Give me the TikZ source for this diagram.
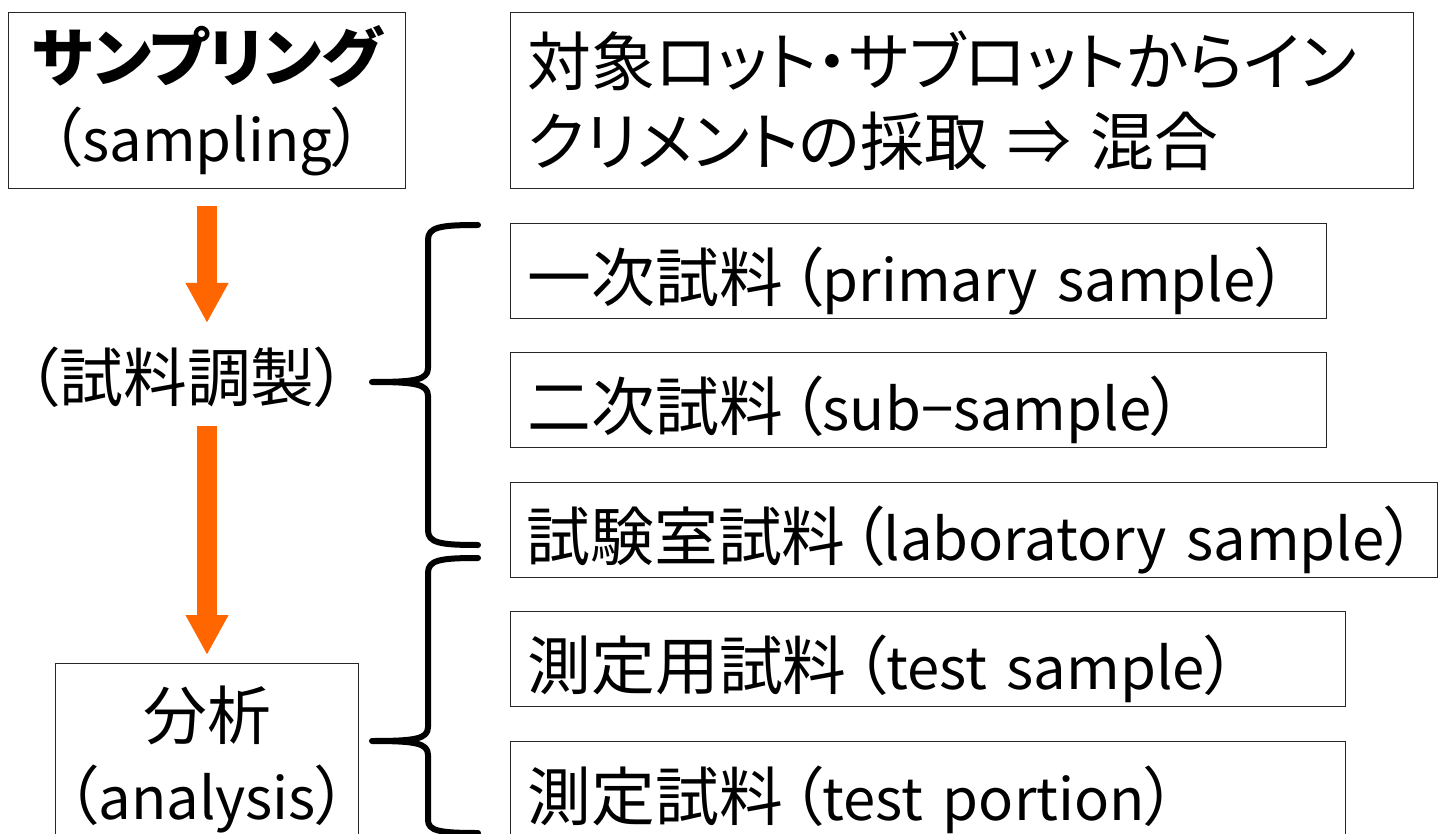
\documentclass[tikz,border=0pt]{standalone}
\usepackage{fontspec}
\setmainfont{Noto Sans CJK JP}
\newfontfamily\jp{Noto Sans CJK JP}[Scale=1.1, RawFeature=+palt]
\usetikzlibrary{arrows.meta}
\definecolor{arrorange}{HTML}{FF6600}
\newcommand{\LP}{{\jp （}}
\newcommand{\RP}{{\jp ）}}
\tikzset{
  box/.style={draw=black!85, line width=1.4pt, anchor=north west, inner ysep=0pt, inner xsep=17pt, align=left, text height=61pt, text depth=0pt},
  cbox/.style={draw=black!85, line width=1.4pt, anchor=north west, inner sep=0pt, align=center},
  big/.style={font=\fontsize{58}{80}\selectfont},
  arr/.style={draw=arrorange, line width=20pt, -{Triangle[width=40pt,length=40pt]}, arrorange},
  brace/.style={draw=black, line width=6pt, line cap=round, line join=round}
}
\begin{document}
\begin{tikzpicture}[x=1pt,y=-1pt]
\useasboundingbox (0,0) rectangle (1443,834);
\fill[white] (0,0) rectangle (1443,834);
% left column
\node[cbox, big, text width=397pt, minimum height=176pt] (samp) at (8,12) {{\jp\bfseries サンプリング}\\\LP sampling\RP};
\node[big] (prep) at (187,377) {\jp （試料調製）};
\node[cbox, big, text width=303pt, minimum height=192pt] (anal) at (55,663) {{\jp 分析}\\\LP analysis\RP};
% arrows
\coordinate (a1s) at (207,206);
\coordinate (a1e) at (207,323);
\coordinate (a2s) at (207,426);
\coordinate (a2e) at (207,655);
\draw[arr] (a1s) -- (a1e);
\draw[arr] (a2s) -- (a2e);
% right column
\node[box, big, text width=869pt, minimum height=176pt, text height=, text depth=] (lot) at (510,12) {\jp 対象ロット・サブロットからイン\\\jp クリメントの採取 ⇒ 混合};
\node[box, big, text width=782pt, minimum height=95pt] (p1) at (510,223) {\mbox{{\jp 一次試料}\hspace{8pt}\LP primary sample\RP}};
\node[box, big, text width=782pt, minimum height=95pt] (p2) at (510,352) {\mbox{{\jp 二次試料}\hspace{8pt}\LP sub−sample\RP}};
\node[box, big, text width=901pt, inner xsep=13pt, minimum height=95pt] (p3) at (510,482) {\mbox{\hspace{3pt}{\jp 試験室試料}\hspace{6pt}\LP laboratory sample\RP}};
\node[box, big, text width=801pt, minimum height=95pt] (p4) at (510,611) {\mbox{{\jp 測定用試料}\hspace{8pt}\LP test sample\RP}};
\node[box, big, text width=801pt, minimum height=97pt] (p5) at (510,741) {\mbox{{\jp 測定試料}\hspace{8pt}\LP test portion\RP}};
% braces
\draw[brace] (478,225) .. controls (440,225) and (428,227) .. (428,240) -- (428,368)
  .. controls (428,380) and (415,382) .. (372,382)
  .. controls (415,382) and (428,384) .. (428,396) -- (428,530)
  .. controls (428,543) and (440,545) .. (478,545);
\draw[brace] (478,558) .. controls (440,558) and (428,560) .. (428,573) -- (428,727)
  .. controls (428,739) and (415,741) .. (372,741)
  .. controls (415,741) and (428,743) .. (428,755) -- (428,820)
  .. controls (428,831) and (440,833) .. (478,833);
\end{tikzpicture}
\end{document}
